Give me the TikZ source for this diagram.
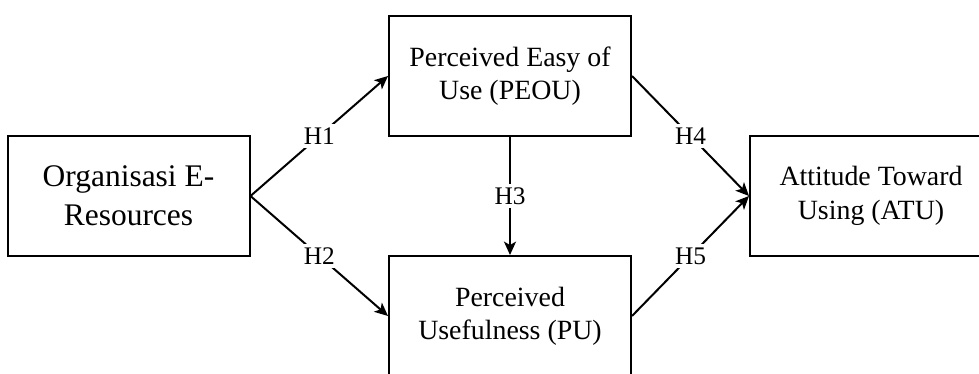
\documentclass[tikz,border=0pt]{standalone}
\usepackage{fontspec}
\setmainfont{Liberation Serif}
\usepackage{xcolor}
\usetikzlibrary{arrows.meta}

\tikzset{
  varbox/.style={draw, line width=1.5pt, minimum width=181.5pt, minimum height=90pt,
    align=center, inner sep=0pt, font=\fontsize{20.9}{25}\selectfont},
  hyp/.style={line width=1.5pt, -{Stealth[length=10pt, width=9pt, inset=2.5pt]}},
  hlabel/.style={fill=white, inner sep=2.5pt, font=\fontsize{19}{22}\selectfont}
}

\begin{document}
\begin{tikzpicture}[x=0.75pt, y=-0.75pt]
\useasboundingbox (0,0) rectangle (979,374);
\clip (0,0) rectangle (979,374);
\node[varbox, font=\fontsize{23.6}{29}\selectfont] (oer) at (128.5,196) {Organisasi E-\\Resources};
\node[varbox] (peou) at (510,76) {Perceived Easy of\\Use (PEOU)};
\node[varbox] (pu)   at (510,316) {Perceived\\Usefulness (PU)};
\node[varbox] (atu)  at (871,196) {Attitude Toward\\Using (ATU)};
\draw[hyp] (oer.east) -- node[hlabel]{H1} (peou.west);
\draw[hyp] (oer.east) -- node[hlabel]{H2} (pu.west);
\draw[hyp] (peou.south) -- node[hlabel]{H3} (pu.north);
\draw[hyp] (peou.east) -- node[hlabel]{H4} (atu.west);
\draw[hyp] (pu.east) -- node[hlabel]{H5} (atu.west);
\end{tikzpicture}
\end{document}
